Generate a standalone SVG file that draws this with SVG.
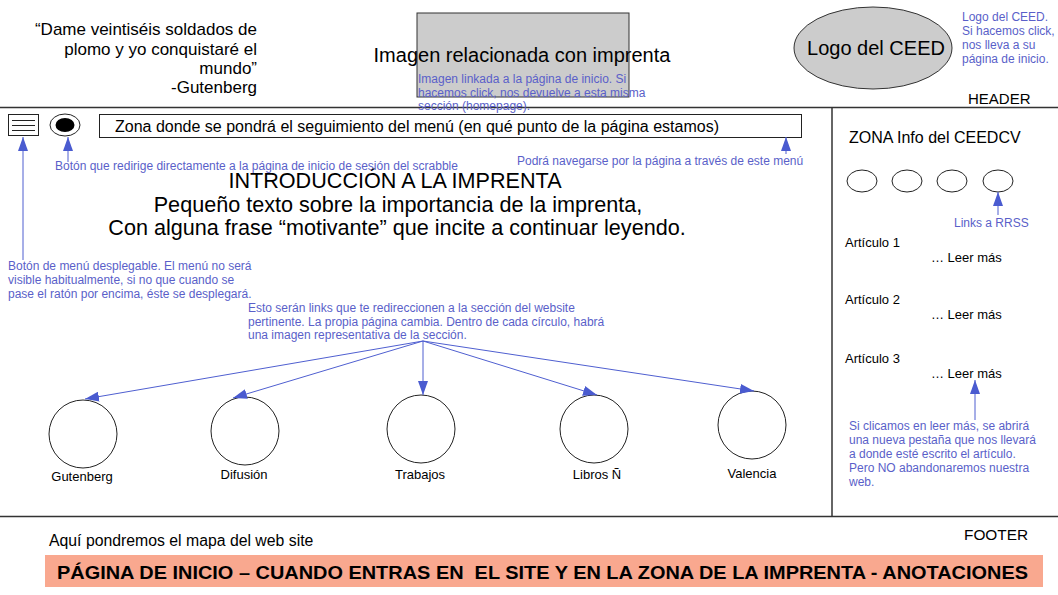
<svg xmlns="http://www.w3.org/2000/svg" width="1058" height="595" viewBox="0 0 1058 595">
<defs>
<style>
text{font-family:"Liberation Sans",Arial,sans-serif;fill:#000}
.note{fill:#5a5fc9;font-size:12px}
.blk{stroke:#222;stroke-width:1;fill:none}
.frame{stroke:#333;stroke-width:1.5;fill:none}
.con{stroke:#4f5fd0;stroke-width:1;fill:none}
.lbl{font-size:13px;text-anchor:middle}
</style>
<marker id="ahL" viewBox="0 0 14 10" refX="14" refY="5" markerWidth="14" markerHeight="10" markerUnits="userSpaceOnUse" orient="auto">
<path d="M0,0 L14,5 L0,10 z" fill="#4a5bd0"/>
</marker>
</defs>

<g id="frame">
<line class="frame" x1="0" y1="107.5" x2="1058" y2="107.5"/>
<line class="frame" x1="0" y1="516.5" x2="1058" y2="516.5"/>
<line class="frame" x1="832" y1="107.5" x2="832" y2="516.5"/>
</g>

<g id="quote" font-size="17" text-anchor="end">
<text x="257" y="35">“Dame veintiséis soldados de</text>
<text x="257" y="55">plomo y yo conquistaré el</text>
<text x="257" y="74">mundo”</text>
<text x="257" y="93">-Gutenberg</text>
</g>

<g id="imagen">
<rect x="417" y="13" width="212" height="84" fill="#cccccc" stroke="#333" stroke-width="1"/>
<text x="522" y="62" font-size="20" text-anchor="middle">Imagen relacionada con imprenta</text>
<text class="note"><tspan x="418" y="83">Imagen linkada a la página de inicio. Si</tspan><tspan x="418" y="97">hacemos click, nos devuelve a esta misma</tspan><tspan x="418" y="110">sección (homepage).</tspan></text>
</g>

<g id="logo">
<ellipse cx="873" cy="48" rx="79" ry="41" fill="#cccccc" stroke="#333" stroke-width="1"/>
<text x="876" y="55" font-size="20" text-anchor="middle">Logo del CEED</text>
<text class="note"><tspan x="962" y="21">Logo del CEED.</tspan><tspan x="962" y="35">Si hacemos click,</tspan><tspan x="962" y="49">nos lleva a su</tspan><tspan x="962" y="63">página de inicio.</tspan></text>
</g>

<text id="header" x="968" y="104" font-size="15">HEADER</text>

<g id="menu-icon">
<rect x="8.5" y="114.5" width="30" height="21" class="blk"/>
<line class="blk" x1="12" y1="120.5" x2="35" y2="120.5"/>
<line class="blk" x1="12" y1="125.5" x2="35" y2="125.5"/>
<line class="blk" x1="12" y1="130.5" x2="35" y2="130.5"/>
</g>

<g id="eye-button">
<ellipse cx="65" cy="125" rx="15" ry="11" fill="#fff" stroke="#222" stroke-width="1"/>
<ellipse cx="65" cy="125" rx="9.5" ry="7" fill="#000"/>
</g>

<g id="menu-bar">
<rect x="99.5" y="114.5" width="702" height="23" class="blk"/>
<text x="115" y="132" font-size="16">Zona donde se pondrá el seguimiento del menú (en qué punto de la página estamos)</text>
</g>

<text class="note" x="55" y="170">Botón que redirige directamente a la página de inicio de sesión del scrabble</text>
<text class="note" x="517" y="165">Podrá navegarse por la página a través de este menú</text>

<g id="intro" font-size="21.6" text-anchor="middle">
<text x="395" y="188">INTRODUCCIÓN A LA IMPRENTA</text>
<text x="398" y="212">Pequeño texto sobre la importancia de la imprenta,</text>
<text x="397" y="235">Con alguna frase “motivante” que incite a continuar leyendo.</text>
</g>

<text class="note"><tspan x="8" y="270">Botón de menú desplegable. El menú no será</tspan><tspan x="8" y="284">visible habitualmente, si no que cuando se</tspan><tspan x="8" y="298">pase el ratón por encima, éste se desplegará.</tspan></text>

<text class="note"><tspan x="248" y="312">Esto serán links que te redireccionen a la sección del website</tspan><tspan x="248" y="326">pertinente. La propia página cambia. Dentro de cada círculo, habrá</tspan><tspan x="248" y="339">una imagen representativa de la sección.</tspan></text>

<g id="node-gutenberg">
<circle cx="83" cy="434" r="34" class="blk"/>
<text class="lbl" x="82" y="481">Gutenberg</text>
</g>
<g id="node-difusion">
<circle cx="245" cy="431" r="34" class="blk"/>
<text class="lbl" x="244" y="479">Difusión</text>
</g>
<g id="node-trabajos">
<circle cx="421" cy="429" r="34" class="blk"/>
<text class="lbl" x="420" y="479">Trabajos</text>
</g>
<g id="node-libros">
<circle cx="594" cy="429" r="34" class="blk"/>
<text class="lbl" x="597" y="479">Libros Ñ</text>
</g>
<g id="node-valencia">
<circle cx="752" cy="425" r="34" class="blk"/>
<text class="lbl" x="752" y="478">Valencia</text>
</g>

<g id="zona-info">
<text x="849" y="143" font-size="16">ZONA Info del CEEDCV</text>
<ellipse cx="862" cy="181" rx="15" ry="11" class="blk"/>
<ellipse cx="907" cy="181" rx="15" ry="11" class="blk"/>
<ellipse cx="952" cy="181" rx="15" ry="11" class="blk"/>
<ellipse cx="998" cy="181" rx="15" ry="11" class="blk"/>
<text class="note" x="954" y="227">Links a RRSS</text>
<text x="845" y="247" font-size="13">Artículo 1</text>
<text x="931" y="262" font-size="13">… Leer más</text>
<text x="845" y="304" font-size="13">Artículo 2</text>
<text x="931" y="319" font-size="13">… Leer más</text>
<text x="845" y="363" font-size="13">Artículo 3</text>
<text x="931" y="378" font-size="13">… Leer más</text>
<text class="note"><tspan x="849" y="430">Si clicamos en leer más, se abrirá</tspan><tspan x="849" y="444">una nueva pestaña que nos llevará</tspan><tspan x="849" y="458">a donde esté escrito el artículo.</tspan><tspan x="849" y="472">Pero NO abandonaremos nuestra</tspan><tspan x="849" y="486">web.</tspan></text>
</g>

<g id="connectors">
<line class="con" x1="23" y1="260" x2="23" y2="137" marker-end="url(#ahL)"/>
<line class="con" x1="68" y1="162" x2="68" y2="137" marker-end="url(#ahL)"/>
<line class="con" x1="786" y1="154" x2="786" y2="137" marker-end="url(#ahL)"/>
<line class="con" x1="998" y1="215" x2="998" y2="192" marker-end="url(#ahL)"/>
<line class="con" x1="975" y1="420" x2="975" y2="380" marker-end="url(#ahL)"/>
<line class="con" x1="423" y1="341" x2="85" y2="399" marker-end="url(#ahL)"/>
<line class="con" x1="423" y1="341" x2="233" y2="398" marker-end="url(#ahL)"/>
<line class="con" x1="423" y1="341" x2="423" y2="395" marker-end="url(#ahL)"/>
<line class="con" x1="423" y1="341" x2="597" y2="395" marker-end="url(#ahL)"/>
<line class="con" x1="423" y1="341" x2="754" y2="391" marker-end="url(#ahL)"/>
</g>

<g id="footer">
<text x="49" y="546" font-size="15.8">Aquí pondremos el mapa del web site</text>
<text x="964" y="540" font-size="15.4">FOOTER</text>
<rect x="45" y="555" width="998" height="32" fill="#f9a88f"/>
<text x="57" y="579" font-size="18" font-weight="bold" xml:space="preserve" textLength="971" lengthAdjust="spacingAndGlyphs">PÁGINA DE INICIO – CUANDO ENTRAS EN  EL SITE Y EN LA ZONA DE LA IMPRENTA - ANOTACIONES</text>
</g>
</svg>
